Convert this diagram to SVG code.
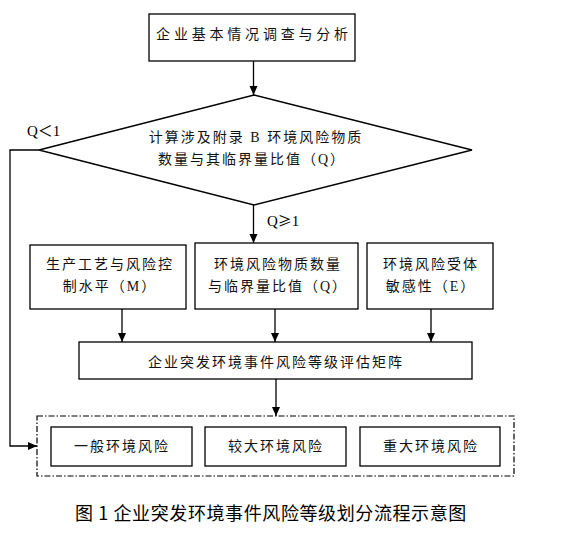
<svg xmlns="http://www.w3.org/2000/svg" width="565" height="535" viewBox="0 0 565 535">
<style>
.box{fill:#fff;stroke:#000;stroke-width:1.3}
.t{font-family:"Liberation Serif","Noto Sans CJK SC",serif;font-size:14px;fill:#111;text-anchor:middle;letter-spacing:2px}
.lbl{font-family:"Liberation Serif","Noto Sans CJK SC",serif;font-size:15px;fill:#000}
.cap{font-family:"Noto Sans CJK SC",sans-serif;font-size:18px;fill:#000;text-anchor:middle;letter-spacing:0.6px}
.ln{fill:none;stroke:#000;stroke-width:1.3}
</style>
<defs>
<marker id="ah" markerWidth="10" markerHeight="10" refX="9" refY="4" orient="auto" markerUnits="userSpaceOnUse">
<path d="M0,0 L9,4 L0,8 Z" fill="#000"/>
</marker>
</defs>
<rect width="565" height="535" fill="#fff"/>
<g id="n-survey"><rect class="box" x="149" y="14" width="206" height="47"/><text class="t" x="254" y="39" style="letter-spacing:3.8px">企业基本情况调查与分析</text></g>
<g id="n-diamond"><polygon class="box" points="254,95 472,150 254,205 39,150"/>
<text class="t" x="256" y="142">计算涉及附录 B 环境风险物质</text>
<text class="t" x="252" y="164">数量与其临界量比值（Q）</text></g>
<g id="n-m"><rect class="box" x="30" y="245" width="156" height="64"/><text class="t" x="110" y="269">生产工艺与风险控</text><text class="t" x="110" y="291">制水平（M）</text></g>
<g id="n-q"><rect class="box" x="195" y="243" width="163" height="66"/><text class="t" x="278" y="269">环境风险物质数量</text><text class="t" x="278" y="291">与临界量比值（Q）</text></g>
<g id="n-e"><rect class="box" x="367" y="243" width="126" height="66"/><text class="t" x="431" y="269">环境风险受体</text><text class="t" x="431" y="291">敏感性（E）</text></g>
<g id="n-matrix"><rect class="box" x="79" y="342" width="393" height="37"/><text class="t" x="276" y="367">企业突发环境事件风险等级评估矩阵</text></g>
<g id="n-levels"><rect x="37" y="416" width="477" height="60" fill="none" stroke="#000" stroke-width="1.2" stroke-dasharray="6,2,1.5,2"/>
<g id="n-low"><rect class="box" x="51" y="427" width="141" height="39"/><text class="t" x="122" y="451">一般环境风险</text></g>
<g id="n-mid"><rect class="box" x="205" y="427" width="141" height="39"/><text class="t" x="276" y="451">较大环境风险</text></g>
<g id="n-high"><rect class="box" x="360" y="427" width="140" height="39"/><text class="t" x="431" y="451">重大环境风险</text></g>
</g>
<g id="connectors">
<line class="ln" x1="253.5" y1="61" x2="253.5" y2="95" marker-end="url(#ah)"/>
<line class="ln" x1="253.5" y1="205" x2="253.5" y2="243" marker-end="url(#ah)"/>
<polyline class="ln" points="39,150 10,150 10,446 37,446" marker-end="url(#ah)"/>
<line class="ln" x1="122" y1="309" x2="122" y2="342" marker-end="url(#ah)"/>
<line class="ln" x1="275" y1="309" x2="275" y2="342" marker-end="url(#ah)"/>
<line class="ln" x1="431" y1="309" x2="431" y2="342" marker-end="url(#ah)"/>
<line class="ln" x1="276" y1="379" x2="276" y2="416" marker-end="url(#ah)"/>
<text class="lbl" x="27" y="136">Q＜1</text>
<text class="lbl" x="267" y="226">Q<tspan style="font-family:'Noto Sans CJK SC',sans-serif;font-size:14px">≥</tspan>1</text>
</g>
<text class="cap" x="271" y="520">图 1  企业突发环境事件风险等级划分流程示意图</text>
</svg>
